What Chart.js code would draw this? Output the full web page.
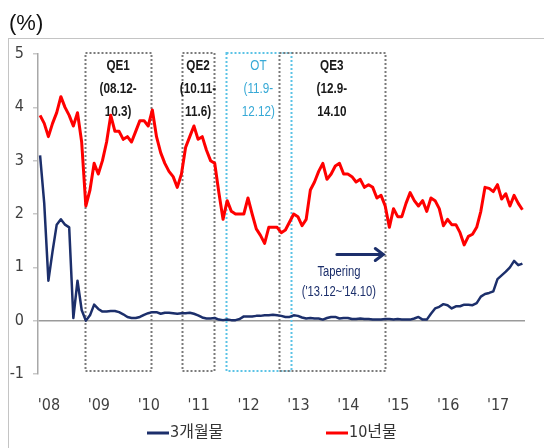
<!DOCTYPE html>
<html>
<head>
<meta charset="utf-8">
<script src="https://cdn.jsdelivr.net/npm/chart.js@4.4.1/dist/chart.umd.min.js"></script>
<style>
  html, body { margin: 0; padding: 0; background: #fff; }
  #wrap { position: relative; width: 544px; height: 448px; }
</style>
</head>
<body>
<div id="wrap"><canvas id="yieldChart" width="544" height="448"></canvas></div>
<script>
// US treasury yields, monthly, starting Jan 2008 (%)
const startYear = 2008;
const seriesNames = ['3개월물', '10년물'];

const bill3m = [
  3.1, 2.2, 0.75, 1.3, 1.8, 1.9, 1.8, 1.75, 0.05, 0.75, 0.2, 0.0,
  0.1, 0.3, 0.22, 0.17, 0.17, 0.18, 0.18, 0.16, 0.12, 0.07, 0.05, 0.05,
  0.07, 0.11, 0.14, 0.16, 0.16, 0.13, 0.15, 0.15, 0.14, 0.13, 0.14, 0.14,
  0.15, 0.13, 0.1, 0.06, 0.04, 0.04, 0.05, 0.02, 0.01, 0.02, 0.01, 0.01,
  0.03, 0.08, 0.08, 0.08, 0.09, 0.09, 0.1, 0.1, 0.11, 0.1, 0.09, 0.07,
  0.07, 0.1, 0.09, 0.06, 0.04, 0.05, 0.04, 0.04, 0.02, 0.05, 0.07, 0.07,
  0.04, 0.05, 0.05, 0.03, 0.03, 0.04, 0.03, 0.03, 0.02, 0.02, 0.02, 0.03,
  0.03, 0.02, 0.03, 0.02, 0.02, 0.02, 0.04, 0.07, 0.02, 0.02, 0.13, 0.23,
  0.26, 0.31, 0.29, 0.23, 0.27, 0.27, 0.3, 0.3, 0.29, 0.33, 0.45, 0.5,
  0.52, 0.55, 0.78, 0.85, 0.92, 1.0, 1.12, 1.04, 1.07
];

const note10y = [
  3.85, 3.7, 3.45, 3.7, 3.9, 4.2, 4.0, 3.85, 3.65, 3.9, 3.35, 2.15,
  2.45, 2.95, 2.75, 3.0, 3.35, 3.85, 3.55, 3.55, 3.4, 3.45, 3.35, 3.55,
  3.75, 3.75, 3.65, 3.95, 3.45, 3.15, 2.95, 2.8, 2.7, 2.5, 2.75, 3.25,
  3.45, 3.65, 3.4, 3.45, 3.2, 3.0, 2.95, 2.4, 1.9, 2.25, 2.05, 2.0,
  2.0, 2.0, 2.3, 2.0, 1.72, 1.6, 1.45, 1.75, 1.75, 1.75, 1.65, 1.7,
  1.85, 2.0, 1.95, 1.78, 1.9, 2.45, 2.6, 2.8, 2.95, 2.65, 2.75, 2.9,
  2.95, 2.75, 2.75, 2.7, 2.6, 2.65, 2.5, 2.55, 2.5, 2.3, 2.35, 2.15,
  1.75, 2.1, 1.95, 1.95, 2.2, 2.4, 2.25, 2.15, 2.25, 2.05, 2.3, 2.25,
  2.1, 1.78, 1.9, 1.8, 1.8, 1.65, 1.42, 1.58, 1.62, 1.75, 2.05, 2.5,
  2.48, 2.42, 2.55, 2.28, 2.38, 2.15, 2.35, 2.2, 2.08
];

const yearTicks = [2008, 2009, 2010, 2011, 2012, 2013, 2014, 2015, 2016, 2017];
const yearLabels = ["'08", "'09", "'10", "'11", "'12", "'13", "'14", "'15", "'16", "'17"];

// policy periods, as decimal years
const programs = [
  { name: 'QE1', period: ['(08.12-', '10.3)'], from: 2008.95, to: 2010.26, kind: 'qe' },
  { name: 'QE2', period: ['(10.11-', '11.6)'], from: 2010.89, to: 2011.525, kind: 'qe' },
  { name: 'OT', period: ['(11.9-', '12.12)'], from: 2011.765, to: 2013.07, kind: 'ot' },
  { name: 'QE3', period: ['(12.9-', '14.10'], from: 2012.83, to: 2014.945, kind: 'qe' }
];
const tapering = { text: ['Tapering', "('13.12~'14.10)"], from: 2013.99, to: 2014.92, level: 1.24 };

const FONT = "'Liberation Sans Narrow', 'DejaVu Sans Condensed', 'Noto Sans CJK KR', sans-serif";
const NAVY = '#1c2f6b';
const RED = '#ff0000';

const toPoints = arr => arr.map((v, i) => ({ x: startYear + (i + 0.5) / 12, y: v }));

// narrow text: squeeze horizontally around the centre point
function narrowText(ctx, s, cx, cy, squeeze) {
  ctx.save();
  ctx.translate(cx, cy);
  ctx.scale(squeeze, 1);
  ctx.fillText(s, 0, 0);
  ctx.restore();
}

const overlay = {
  id: 'overlay',
  beforeDatasetsDraw(chart) {
    const { ctx, scales: { x, y } } = chart;
    const top = y.getPixelForValue(5) - 1;
    const bottom = y.getPixelForValue(-1) - 3;
    ctx.save();
    ctx.lineWidth = 2;
    ctx.setLineDash([2, 2]);
    programs.forEach(p => {
      const l = Math.round(x.getPixelForValue(p.from)) + 0.5;
      const r = Math.round(x.getPixelForValue(p.to)) + 0.5;
      ctx.strokeStyle = p.kind === 'ot' ? '#5cc3e6' : '#7a7a7a';
      ctx.strokeRect(l, top, r - l, bottom - top);
    });
    ctx.setLineDash([]);
    ctx.textAlign = 'center';
    ctx.textBaseline = 'middle';
    programs.forEach(p => {
      const cx = (x.getPixelForValue(p.from) + x.getPixelForValue(p.to)) / 2;
      ctx.fillStyle = p.kind === 'ot' ? '#37a9d6' : '#1a1a1a';
      ctx.font = (p.kind === 'ot' ? '' : 'bold ') + "15px 'Liberation Sans', sans-serif";
      [p.name].concat(p.period).forEach((s, i) => narrowText(ctx, s, cx, 66 + i * 23, 0.78));
    });
    ctx.restore();
  },
  afterDraw(chart) {
    const { ctx, scales: { x, y } } = chart;
    ctx.save();

    // outer frame
    ctx.strokeStyle = '#c4c4c4';
    ctx.lineWidth = 1;
    ctx.strokeRect(8.5, 38.5, 600, 500);

    ctx.fillStyle = '#111';
    ctx.font = "22px 'Liberation Sans', sans-serif";
    ctx.textAlign = 'left';
    ctx.textBaseline = 'middle';
    ctx.fillText('(%)', 9, 24);

    // tapering arrow
    const x0 = x.getPixelForValue(tapering.from);
    const x1 = x.getPixelForValue(tapering.to);
    const ya = y.getPixelForValue(tapering.level);
    ctx.strokeStyle = NAVY;
    ctx.lineWidth = 3;
    ctx.lineCap = 'round';
    ctx.beginPath();
    ctx.moveTo(x0, ya); ctx.lineTo(x1, ya);
    ctx.moveTo(x1 - 8, ya - 6); ctx.lineTo(x1, ya); ctx.lineTo(x1 - 8, ya + 6);
    ctx.stroke();
    ctx.fillStyle = NAVY;
    ctx.textAlign = 'center';
    ctx.font = "14px 'Liberation Sans', sans-serif";
    narrowText(ctx, tapering.text[0], x0 + 2, ya + 18, 0.8);
    narrowText(ctx, tapering.text[1], x0 + 2, ya + 38, 0.8);

    // legend
    const items = [{ lx: 147, color: NAVY }, { lx: 326, color: RED }];
    ctx.font = '16px ' + FONT;
    ctx.textAlign = 'left';
    items.forEach((it, i) => {
      ctx.strokeStyle = it.color;
      ctx.lineWidth = 3;
      ctx.lineCap = 'butt';
      ctx.beginPath();
      ctx.moveTo(it.lx, 433); ctx.lineTo(it.lx + 22, 433);
      ctx.stroke();
      ctx.fillStyle = '#333';
      ctx.fillText(seriesNames[i], it.lx + 23, 433);
    });
    ctx.restore();
  }
};

new Chart(document.getElementById('yieldChart'), {
  type: 'line',
  data: {
    datasets: [
      { label: seriesNames[0], data: toPoints(bill3m), borderColor: NAVY, borderWidth: 2.5 },
      { label: seriesNames[1], data: toPoints(note10y), borderColor: RED, borderWidth: 3 }
    ]
  },
  options: {
    responsive: false,
    animation: false,
    devicePixelRatio: 1,
    layout: { padding: { left: 0, right: 19, top: 54, bottom: 0 } },
    elements: {
      point: { radius: 0 },
      line: { tension: 0, borderJoinStyle: 'round', fill: false }
    },
    plugins: { legend: { display: false }, tooltip: { enabled: false } },
    scales: {
      x: {
        type: 'linear',
        min: 2008,
        max: 2017.76,
        afterBuildTicks(s) { s.ticks = yearTicks.map(v => ({ value: v })); },
        afterFit(s) { s.height = 74; },
        ticks: {
          callback: (v, i) => yearLabels[i],
          labelOffset: 11,
          padding: 22,
          maxRotation: 0,
          autoSkip: false,
          color: '#404040',
          font: { family: FONT, size: 16 }
        },
        grid: { display: false, drawTicks: false },
        border: { display: false }
      },
      y: {
        min: -1,
        max: 5,
        afterFit(s) { s.width = 38; },
        ticks: {
          stepSize: 1,
          padding: 9,
          color: '#404040',
          font: { family: FONT, size: 16 }
        },
        grid: {
          color: c => (c.tick && c.tick.value === 0 ? '#9a9a9a' : 'transparent'),
          lineWidth: 1.5,
          drawTicks: true,
          tickLength: 5,
          tickColor: '#c8c8c8'
        },
        border: { display: true, color: '#a8a8a8', width: 1.5 }
      }
    }
  },
  plugins: [overlay]
});
</script>
</body>
</html>
